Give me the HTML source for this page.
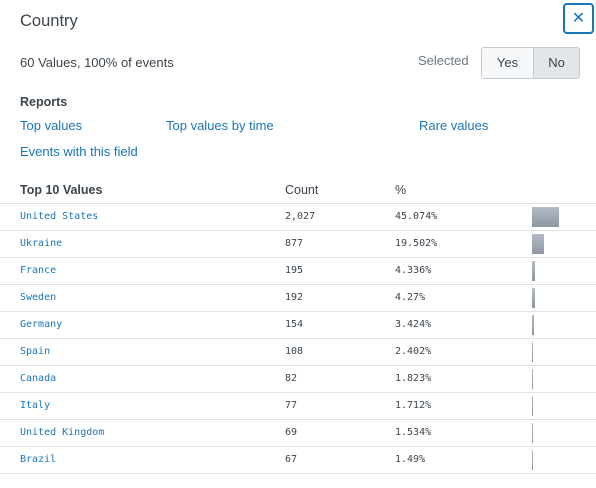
<!DOCTYPE html>
<html><head><meta charset="utf-8"><style>
body{margin:0;width:596px;height:488px;background:#fff;font-family:"Liberation Sans",sans-serif;position:relative;overflow:hidden;color:#3c444d}
.a{position:absolute;white-space:nowrap}
.lnk{color:#1a76b5;font-size:13px}
.mono{font-family:"DejaVu Sans Mono",monospace;font-size:10px}
.hr{position:absolute;left:0;width:596px;height:1px;background:#dfe3e7}
</style></head><body>
<div class="a" style="left:20px;top:12px;font-size:16.5px;color:#3c444d">Country</div>
<div class="a" style="left:563px;top:3px;width:27px;height:27px;border:2px solid #1a76b5;border-radius:4px;color:#1a76b5;font-size:16px;text-align:center;line-height:27px">✕</div>
<div class="a" style="left:20px;top:55px;font-size:13px">60 Values, 100% of events</div>
<div class="a" style="left:418px;top:53px;font-size:13px;color:#6b7785">Selected</div>
<div class="a" style="left:481px;top:47px;width:97px;height:30px;border:1px solid #c3cbd4;border-radius:3px;overflow:hidden;font-size:13px">
<div class="a" style="left:0;top:0;width:51px;height:30px;background:#f7f8fa;border-right:1px solid #c3cbd4;text-align:center;line-height:30px">Yes</div>
<div class="a" style="left:52px;top:0;width:45px;height:30px;background:#e1e6eb;text-align:center;line-height:30px">No</div>
</div>
<div class="a" style="left:20px;top:95px;font-size:12.5px;font-weight:bold">Reports</div>
<div class="a lnk" style="left:20px;top:118px">Top values</div>
<div class="a lnk" style="left:166px;top:118px">Top values by time</div>
<div class="a lnk" style="left:419px;top:118px">Rare values</div>
<div class="a lnk" style="left:20px;top:144px">Events with this field</div>
<div class="a" style="left:20px;top:183px;font-size:12.5px;font-weight:bold">Top 10 Values</div>
<div class="a" style="left:285px;top:183px;font-size:12.5px">Count</div>
<div class="a" style="left:395px;top:183px;font-size:12.5px">%</div>
<div id="rows"></div>
<script>
const countries=["United States","Ukraine","France","Sweden","Germany","Spain","Canada","Italy","United Kingdom","Brazil"];
const counts=["2,027","877","195","192","154","108","82","77","69","67"];
const percents=[45.074,19.502,4.336,4.27,3.424,2.402,1.823,1.712,1.534,1.49];
const host=document.getElementById('rows');
function mk(cls,style,text){const d=document.createElement('div');d.className='a '+cls;d.style.cssText=style;if(text!=null)d.textContent=text;host.appendChild(d);return d;}
for(let i=0;i<countries.length;i++){
  const y=203+i*27;
  const hr=mk('hr','top:'+y+'px');
  
  
  const c=mk('mono','left:20px;top:'+(y+8)+'px;color:#1a76b5',countries[i]);
  
  
  const n=mk('mono','left:285px;top:'+(y+8)+'px;color:#3c444d',counts[i]);
  
  
  const p=mk('mono','left:395px;top:'+(y+8)+'px;color:#3c444d',percents[i]+'%');
  
  
  const w=Math.max(1,percents[i]*0.6);
  const b=mk('','left:532px;top:'+(y+4)+'px;width:'+w+'px;height:20px;background:linear-gradient(#b4bcc6,#8d96a2)');
  
  
}
const last=mk('hr','top:'+(203+countries.length*27)+'px');


</script>
</body></html>
